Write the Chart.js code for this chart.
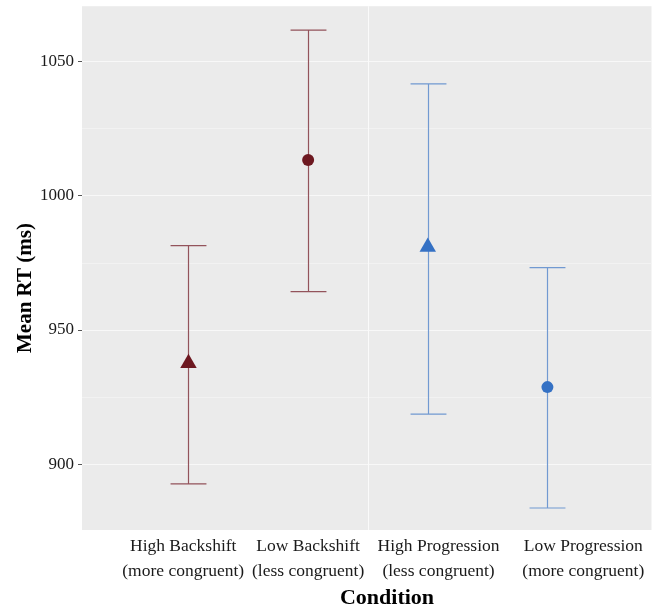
<!DOCTYPE html>
<html>
<head>
<meta charset="utf-8">
<script src="https://cdn.jsdelivr.net/npm/chart.js@4"></script>
<style>
  html, body { margin: 0; padding: 0; background: #fff; overflow: hidden; }
  #wrap { position: absolute; left: 0; top: -8px; width: 661px; height: 621px; }
</style>
</head>
<body>
<div id="wrap"><canvas id="rtChart"></canvas></div>
<script>
// values
const conditions = [
  ['High Backshift', '(more congruent)'],
  ['Low Backshift', '(less congruent)'],
  ['High Progression', '(less congruent)'],
  ['Low Progression', '(more congruent)']
];
const meanRT = [937.6, 1013.4, 981.0, 928.7];
const upperCI = [981.5, 1061.9, 1041.8, 973.3];
const lowerCI = [892.6, 964.3, 918.6, 883.6];
const yTicks = [900, 950, 1000, 1050];

const markerColors = ['#6d1820', '#6d1820', '#3571c4', '#3571c4'];
const barColors = ['#93535b', '#93535b', '#7199d1', '#7199d1'];
const markerShapes = ['triangle', 'circle', 'triangle', 'circle'];
// where the labels sit on the x axis (they are spread wider than the points)
const labelSlots = [0.956, 2.0, 3.09, 4.3];

const serif = '"Liberation Serif", "DejaVu Serif", serif';
const OFF = 8; // canvas is shifted up by this much

// grey panel, divider line, error bars and axis titles
const panelPlugin = {
  id: 'panel',
  beforeDraw(chart) {
    const { ctx, chartArea: a } = chart;
    ctx.save();
    ctx.fillStyle = '#ebebeb';
    ctx.fillRect(a.left, a.top, a.right - a.left, a.bottom - a.top);
    ctx.restore();
  },
  beforeDatasetsDraw(chart) {
    const { ctx, chartArea: a, scales } = chart;
    const x = scales.x, y = scales.y;
    ctx.save();
    ctx.strokeStyle = '#fafafa';
    ctx.lineWidth = 1;
    const dx = Math.round(x.getPixelForValue(2.5)) + 0.5;
    ctx.beginPath();
    ctx.moveTo(dx, a.top);
    ctx.lineTo(dx, a.bottom);
    ctx.stroke();
    meanRT.forEach((m, i) => {
      const px = Math.round(x.getPixelForValue(i + 1)) + 0.5;
      const hi = y.getPixelForValue(upperCI[i]);
      const lo = y.getPixelForValue(lowerCI[i]);
      const half = x.getPixelForValue(i + 1.15) - x.getPixelForValue(i + 1);
      ctx.strokeStyle = barColors[i];
      ctx.lineWidth = 1.2;
      ctx.beginPath();
      ctx.moveTo(px, hi); ctx.lineTo(px, lo);
      ctx.moveTo(px - half, hi); ctx.lineTo(px + half, hi);
      ctx.moveTo(px - half, lo); ctx.lineTo(px + half, lo);
      ctx.stroke();
    });
    ctx.restore();
  },
  afterDraw(chart) {
    const ctx = chart.ctx;
    ctx.save();
    ctx.fillStyle = '#000';
    ctx.textAlign = 'center';
    ctx.textBaseline = 'middle';
    ctx.font = 'bold 22px ' + serif;
    ctx.fillText('Condition', 387, 598 + OFF);
    ctx.font = 'bold 21px ' + serif;
    ctx.translate(26, 288 + OFF);
    ctx.rotate(-Math.PI / 2);
    ctx.fillText('Mean RT (ms)', 0, 0);
    ctx.restore();
  }
};

new Chart(document.getElementById('rtChart'), {
  type: 'scatter',
  data: {
    datasets: [{
      data: meanRT.map((m, i) => ({ x: i + 1, y: m })),
      pointStyle: markerShapes,
      pointBackgroundColor: markerColors,
      pointBorderColor: markerColors,
      pointRadius: markerShapes.map(s => s === 'triangle' ? 9.5 : 6),
      pointBorderWidth: 0
    }]
  },
  options: {
    responsive: true,
    maintainAspectRatio: false,
    animation: false,
    layout: { padding: 0 },
    plugins: { legend: { display: false }, tooltip: { enabled: false } },
    scales: {
      x: {
        type: 'linear',
        min: 0.11,
        max: 4.87,
        afterBuildTicks: s => { s.ticks = labelSlots.map(v => ({ value: v })); },
        afterFit: s => { s.height = 83; },
        grid: { display: false, drawTicks: false },
        border: { display: false },
        ticks: {
          callback: (v, i) => conditions[i],
          color: '#1a1a1a',
          font: { family: serif, size: 17.5, lineHeight: 1.42 },
          padding: 4,
          maxRotation: 0,
          autoSkip: false
        }
      },
      y: {
        min: 875.4,
        max: 1070.8,
        afterBuildTicks: s => {
          const t = [];
          for (let v = 900; v <= 1050; v += 25) t.push({ value: v });
          s.ticks = t;
        },
        afterFit: s => { s.width = 82; },
        grid: {
          color: c => (c.tick && c.tick.value % 50 === 0) ? '#f8f8f8' : '#f2f2f2',
          lineWidth: 1,
          drawTicks: true,
          tickLength: 4,
          tickColor: c => (c.tick && c.tick.value % 50 === 0) ? '#555' : 'rgba(0,0,0,0)'
        },
        border: { display: false },
        ticks: {
          callback: v => yTicks.includes(v) ? String(v) : '',
          color: '#1a1a1a',
          font: { family: serif, size: 17 },
          padding: 4
        }
      }
    }
  },
  plugins: [panelPlugin]
});
</script>
</body>
</html>
